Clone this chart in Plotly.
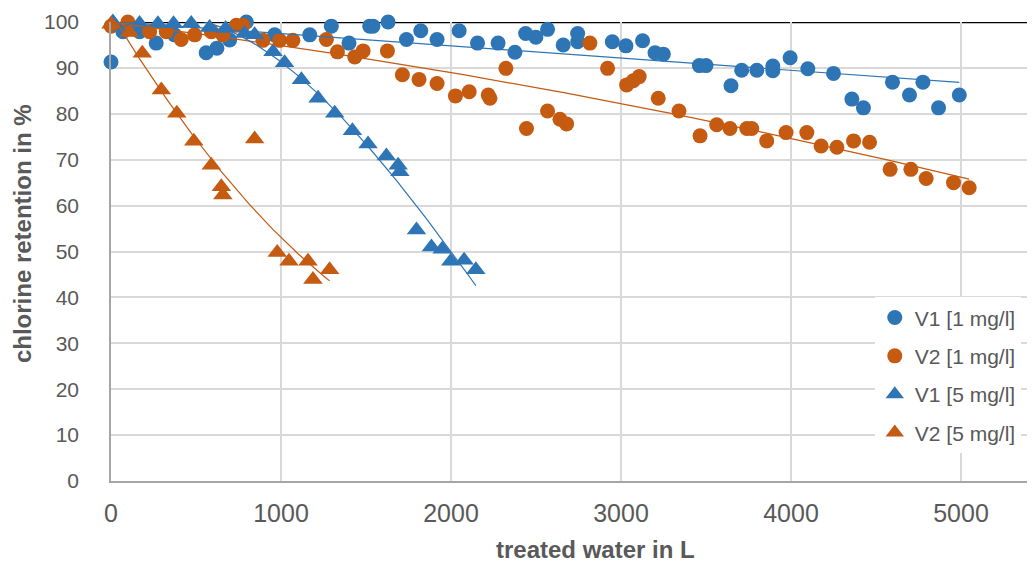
import numpy as np
import plotly.graph_objects as go

# ---------------- data ----------------
v1_1mg_x = [0, 70, 168, 266, 374, 560, 623, 698, 796, 963, 1169, 1296, 1400, 1522, 1541,
            1630, 1738, 1822, 1918, 2048, 2156, 2277, 2376, 2439, 2499, 2568, 2660, 2745,
            2745, 2949, 3029, 3127, 3200, 3249, 3461, 3500, 3647, 3710, 3799, 3893, 3893,
            3995, 4099, 4250, 4358, 4426, 4597, 4697, 4776, 4868, 4990]
v1_1mg_y = [91.3, 97.9, 97.9, 95.4, 97.2, 93.3, 94.3, 96.1, 100.0, 97.2, 97.2, 99.1, 95.4,
            99.1, 99.1, 100.0, 96.2, 98.1, 96.2, 98.1, 95.4, 95.4, 93.4, 97.5, 96.7, 98.4,
            95.0, 97.5, 95.7, 95.7, 94.8, 95.9, 93.3, 93.0, 90.5, 90.5, 86.1, 89.5, 89.5,
            90.4, 89.4, 92.2, 89.8, 88.8, 83.2, 81.3, 86.9, 84.1, 86.9, 81.3, 84.1]

v2_1mg_x = [1, 99, 227, 325, 413, 492, 590, 658, 737, 776, 894, 992, 1070, 1267, 1332,
            1434, 1483, 1626, 1714, 1812, 1918, 2026, 2107, 2219, 2229, 2323, 2444, 2568,
            2641, 2680, 2817, 2921, 3033, 3072, 3107, 3219, 3341, 3465, 3563, 3641, 3740,
            3769, 3857, 3971, 4093, 4177, 4270, 4368, 4462, 4583, 4705, 4795, 4956, 5048]
v2_1mg_y = [99.1, 100.0, 97.9, 97.9, 96.2, 97.2, 97.9, 97.2, 99.3, 99.3, 96.0, 96.0, 96.0,
            96.2, 93.5, 92.4, 93.7, 93.7, 88.5, 87.5, 86.6, 83.9, 84.8, 84.1, 83.4, 89.9,
            76.8, 80.6, 78.8, 77.8, 95.4, 89.9, 86.3, 87.2, 88.1, 83.4, 80.6, 75.2, 77.6,
            76.8, 76.8, 76.8, 74.1, 75.9, 75.9, 73.0, 72.7, 74.1, 73.8, 67.9, 67.9, 65.9,
            65.0, 63.9]

v1_5mg_x = [11, 168, 276, 368, 472, 580, 674, 786, 845, 953, 1021, 1120, 1218, 1316, 1420,
            1512, 1620, 1689, 1699, 1797, 1885, 1948, 1999, 2077, 2146]
v1_5mg_y = [100.0, 99.7, 99.6, 99.6, 99.7, 98.8, 98.6, 97.5, 97.2, 93.5, 91.1, 87.4, 83.4,
            80.1, 76.3, 73.4, 70.8, 68.8, 67.4, 54.7, 51.0, 50.5, 47.9, 48.1, 46.0]

v2_5mg_x = [0, 109, 184, 296, 387, 487, 590, 649, 658, 845, 978, 1047, 1159, 1188, 1286]
v2_5mg_y = [99.5, 97.7, 93.2, 85.2, 80.1, 74.0, 68.8, 64.1, 62.3, 74.5, 49.8, 47.9, 47.9,
            43.9, 46.0]

names = ["V1 [1 mg/l]", "V2 [1 mg/l]", "V1 [5 mg/l]", "V2 [5 mg/l]"]
trend_degree = [1, 2, 3, 2]

x_ticks = [0, 1000, 2000, 3000, 4000, 5000]
y_ticks = [0, 10, 20, 30, 40, 50, 60, 70, 80, 90, 100]

# ---------------- styling ----------------
BLUE = "#2E75B6"
ORANGE = "#C55A11"
TXT = "#595959"
GRID = "#D9D9D9"
AXIS = "#A6A6A6"
FONT = "Liberation Sans, Arial, sans-serif"

series = [
    (names[0], v1_1mg_x, v1_1mg_y, BLUE, "circle", 15, trend_degree[0]),
    (names[1], v2_1mg_x, v2_1mg_y, ORANGE, "circle", 15, trend_degree[1]),
    (names[2], v1_5mg_x, v1_5mg_y, BLUE, "triangle-up", 17, trend_degree[2]),
    (names[3], v2_5mg_x, v2_5mg_y, ORANGE, "triangle-up", 17, trend_degree[3]),
]

fig = go.Figure()
for name, xs, ys, col, sym, size, deg in series:
    fig.add_trace(go.Scatter(
        x=xs, y=ys, mode="markers", name=name, legendgroup=name,
        marker=dict(color=col, symbol=sym, size=size, line=dict(width=0)),
        cliponaxis=False,
    ))

for name, xs, ys, col, sym, size, deg in series:
    coeffs = np.polyfit(np.array(xs, float), np.array(ys, float), deg)
    xx = np.linspace(min(xs), max(xs), 200)
    fig.add_trace(go.Scatter(
        x=xx, y=np.polyval(coeffs, xx), mode="lines", showlegend=False,
        line=dict(color=col, width=1.2), hoverinfo="skip", cliponaxis=False,
    ))

# line at 100 %
fig.add_shape(type="line", xref="paper", x0=0, x1=1, yref="y", y0=100, y1=100,
              line=dict(color="black", width=2.5), layer="below")

fig.update_layout(
    width=1027, height=556,
    margin=dict(l=103, r=6, t=14, b=83, autoexpand=False),
    paper_bgcolor="white", plot_bgcolor="white",
    font=dict(family=FONT, color=TXT),
    showlegend=True,
    legend=dict(
        x=0.832, y=0.40, xanchor="left", yanchor="top",
        bgcolor="white", borderwidth=0,
        font=dict(family=FONT, size=21, color=TXT),
        tracegroupgap=8, itemwidth=30,
    ),
    xaxis=dict(
        range=[0, 5400], tickvals=x_ticks, ticktext=[str(v) for v in x_ticks],
        showgrid=True, gridcolor=GRID, gridwidth=1.5,
        showline=True, linecolor=AXIS, linewidth=1.5, zeroline=False,
        ticks="", tickfont=dict(size=25, color=TXT, family=FONT),
        ticklabelstandoff=9, automargin=False,
    ),
    yaxis=dict(
        range=[0, 100], tickvals=y_ticks, ticktext=[str(v) for v in y_ticks],
        showgrid=True, gridcolor=GRID, gridwidth=1.5,
        showline=True, linecolor=AXIS, linewidth=1.5, zeroline=False,
        ticks="", tickfont=dict(size=21, color=TXT, family=FONT),
        ticklabelstandoff=26, automargin=False,
    ),
    annotations=[
        dict(text="<b>treated water in L</b>", xref="paper", yref="paper",
             x=(595 - 111) / 918, y=-0.149, xanchor="center", yanchor="middle",
             showarrow=False, borderpad=0, font=dict(size=24, color=TXT, family=FONT)),
        dict(text="<b>chlorine retention in %</b>", xref="paper", yref="paper",
             x=-0.097, y=0.54, xanchor="center", yanchor="middle", showarrow=False,
             textangle=-90, font=dict(size=24, color=TXT, family=FONT)),
    ],
)

fig.write_html("out.html")
